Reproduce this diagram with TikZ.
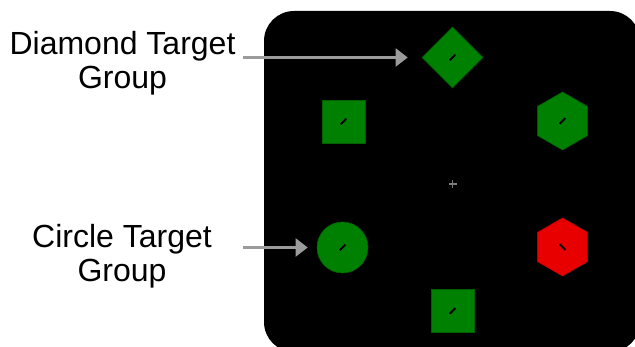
\documentclass[tikz,border=0pt]{standalone}
\usepackage{fontspec}
\setmainfont{Liberation Sans}
\usetikzlibrary{arrows.meta,shapes.geometric}
\definecolor{tgreen}{RGB}{0,128,0}
\definecolor{tred}{RGB}{232,0,0}
\definecolor{pgray}{RGB}{155,155,155}
\newcommand{\fwdtick}[1]{\draw[tickline] ([shift={(-2.8, 2.8)}]#1.center) -- ([shift={( 2.8,-2.8)}]#1.center);}
\newcommand{\bwdtick}[1]{\draw[tickline] ([shift={(-2.8,-2.8)}]#1.center) -- ([shift={( 2.8, 2.8)}]#1.center);}

\begin{document}
\begin{tikzpicture}[x=1pt,y=-1pt,
   target/.style={fill=tgreen,draw=tgreen!75!black,line width=0.6pt,inner sep=0pt},
   sqbox/.style={target,rectangle,minimum size=43pt},
   hexbox/.style={target,regular polygon,regular polygon sides=6,shape border rotate=30,minimum size=58pt},
   tickline/.style={line width=1.8pt,black},
   pointer/.style={pgray,line width=2.2pt,-{Triangle[length=12pt,width=18pt]}},
   caption/.style={align=center,inner sep=0pt,font=\fontsize{32}{34}\selectfont}]
   \useasboundingbox (0,0) rectangle (635,347);
   \fill[black,rounded corners=30pt] (264,11) rectangle (640,352);
   % targets
   \node[target,diamond,minimum size=61pt]      (dmd)  at (452.5, 57.5) {};
   \node[sqbox]                                 (sqa)  at (343.5,121.5) {};
   \node[hexbox]                                (hexa) at (562.5,121.0) {};
   \node[target,circle,minimum size=51pt]       (circ) at (342.5,247.5) {};
   \node[hexbox,fill=tred,draw=tred!85!black]   (hexb) at (562.5,247.0) {};
   \node[sqbox]                                 (sqb)  at (452.5,311.0) {};
   \fwdtick{dmd}
   \fwdtick{sqa}
   \fwdtick{hexa}
   \fwdtick{circ}
   \bwdtick{hexb}
   \fwdtick{sqb}
   % fixation
   \coordinate (fix) at (452.5,184);
   \draw[pgray!80!black,line width=1.3pt] ([xshift=-4pt]fix) -- ([xshift=4pt]fix)
                                          ([yshift=-4pt]fix) -- ([yshift=4pt]fix);
   % labels
   \node[caption] (dlabel) at (122.5, 63) {Diamond Target\\Group};
   \node[caption] (clabel) at (122.0,256) {Circle Target\\Group};
   \coordinate (dtail) at (243, 57.5);
   \coordinate (ctail) at (243,247.5);
   \draw[pointer,shorten >=14pt] (dtail) -- (dmd);
   \draw[pointer,shorten >=9pt]  (ctail) -- (circ);
\end{tikzpicture}
\end{document}
